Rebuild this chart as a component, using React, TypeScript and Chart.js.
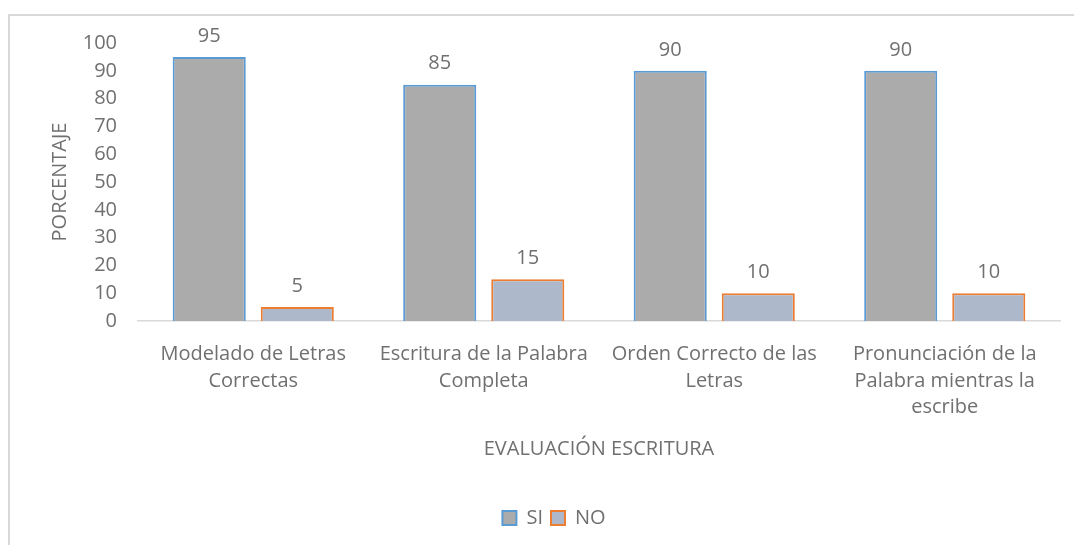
import React, { useEffect, useRef } from "react";
import { Chart, registerables } from "chart.js";

Chart.register(...registerables);

const categories: string[][] = [
  ["Modelado de Letras", "Correctas"],
  ["Escritura de la Palabra", "Completa"],
  ["Orden Correcto de las", "Letras"],
  ["Pronunciación de la", "Palabra mientras la", "escribe"],
];
const siValues: number[] = [95, 85, 90, 90];
const noValues: number[] = [5, 15, 10, 10];
const seriesNames: string[] = ["SI", "NO"];
const yTitle = "PORCENTAJE";
const xTitle = "EVALUACIÓN ESCRITURA";

const FONT = "'Open Sans', 'DejaVu Sans', sans-serif";
const TEXT = "#707070";

const dataLabels = {
  id: "dataLabels",
  afterDatasetsDraw(chart: any) {
    const ctx = chart.ctx;
    ctx.save();
    ctx.fillStyle = TEXT;
    ctx.font = `20px ${FONT}`;
    ctx.textAlign = "center";
    ctx.textBaseline = "middle";
    chart.data.datasets.forEach((ds: any, i: number) => {
      const meta = chart.getDatasetMeta(i);
      meta.data.forEach((bar: any, j: number) => {
        ctx.fillText(String(ds.data[j]), bar.x, bar.y - 21);
      });
    });
    ctx.restore();
  },
};

export default function App() {
  const ref = useRef<HTMLCanvasElement | null>(null);
  useEffect(() => {
    if (!ref.current) return;
    const chart = new Chart(ref.current, {
      type: "bar",
      data: {
        labels: categories,
        datasets: [
          {
            label: seriesNames[0],
            data: siValues,
            backgroundColor: "#ABABAB",
            borderColor: "#5B9BD5",
            borderWidth: 2,
            barPercentage: 0.83,
            categoryPercentage: 0.764,
          },
          {
            label: seriesNames[1],
            data: noValues,
            backgroundColor: "#ADB8CA",
            borderColor: "#ED7D31",
            borderWidth: 2,
            barPercentage: 0.83,
            categoryPercentage: 0.764,
          },
        ],
      },
      options: {
        animation: false,
        responsive: false,
        layout: { padding: { top: 43, right: 14, left: 48, bottom: 7 } },
        plugins: {
          tooltip: { enabled: false },
          legend: {
            position: "bottom",
            labels: {
              color: TEXT,
              font: { family: FONT, size: 20 },
              boxWidth: 14,
              boxHeight: 14,
              padding: 8,
            },
          },
        },
        scales: {
          x: {
            grid: { display: false },
            border: { display: true, color: "#D9D9D9", width: 1.5 },
            ticks: {
              color: TEXT,
              font: { family: FONT, size: 20, lineHeight: 1.33 },
              padding: 12,
              maxRotation: 0,
              autoSkip: false,
            },
            title: {
              display: true,
              text: xTitle,
              color: TEXT,
              font: { family: FONT, size: 20 },
              padding: { top: 0, bottom: 39 },
            },
            afterFit: (scale: any) => {
              scale.height = 179;
            },
          },
          y: {
            min: 0,
            max: 100,
            grid: { display: false },
            border: { display: false },
            ticks: {
              stepSize: 10,
              color: TEXT,
              font: { family: FONT, size: 20 },
              padding: 13,
            },
            title: {
              display: true,
              text: yTitle,
              color: TEXT,
              font: { family: FONT, size: 20 },
              padding: { top: 0, bottom: 0 },
            },
            afterFit: (scale: any) => {
              scale.width = 90;
            },
          },
        },
      },
      plugins: [dataLabels],
    });
    return () => chart.destroy();
  }, []);
  return (
    <div>
      <div
        style={{
          position: "fixed",
          left: 8,
          top: 14,
          width: 1066,
          height: 531,
          borderLeft: "2px solid #D9D9D9",
          borderTop: "2px solid #D9D9D9",
          boxSizing: "border-box",
        }}
      />
      <canvas
        ref={ref}
        width={1074}
        height={545}
        style={{ position: "fixed", left: 0, top: 0 }}
      />
    </div>
  );
}
